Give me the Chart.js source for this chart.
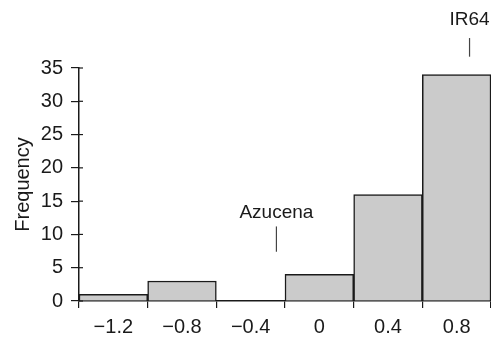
<!DOCTYPE html>
<html>
<head>
<meta charset="utf-8">
<script src="https://cdn.jsdelivr.net/npm/chart.js@4.4.1/dist/chart.umd.min.js"></script>
<style>
  html, body { margin: 0; padding: 0; background: #fff; }
  #chart { display: block; }
</style>
</head>
<body>
<canvas id="chart" width="491" height="338"></canvas>
<script>
// histogram bins (centre of each 0.4 wide bin) and counts
const binLabels = ['\u22121.2', '\u22120.8', '\u22120.4', '0', '0.4', '0.8'];
const binCenters = [-1.2, -0.8, -0.4, 0, 0.4, 0.8];
const frequency = [1, 3, 0, 4, 16, 34];
const yTicks = [0, 5, 10, 15, 20, 25, 30, 35];

// labelled parents, x in data units, line span in frequency units
const markerNames = ['Azucena', 'IR64'];
const markerX = [-0.25, 0.875];
const markerLine = [[7.4, 11.2], [36.7, 39.5]];
const markerText = [12.4, 41.5];

const FONT = '"Liberation Sans", Arial, Helvetica, sans-serif';
const INK = '#1a1a1a';

const binWidth = binCenters[1] - binCenters[0];
const toIndex = v => (v - binCenters[0]) / binWidth;

const markers = {
  id: 'markers',
  afterDatasetsDraw(chart) {
    const { ctx, scales: { x, y } } = chart;
    ctx.save();
    // short inner stubs: the y ticks cross the axis line
    ctx.strokeStyle = INK;
    ctx.lineWidth = 1.2;
    yTicks.forEach(v => {
      const py = y.getPixelForValue(v);
      ctx.beginPath();
      ctx.moveTo(x.left, py);
      ctx.lineTo(x.left + 4, py);
      ctx.stroke();
    });
    ctx.fillStyle = INK;
    ctx.strokeStyle = '#444';
    ctx.font = '19px ' + FONT;
    ctx.textAlign = 'center';
    ctx.textBaseline = 'alphabetic';
    markerNames.forEach((name, i) => {
      const px = x.getPixelForValue(toIndex(markerX[i]));
      ctx.beginPath();
      ctx.moveTo(px, y.getPixelForValue(markerLine[i][0]));
      ctx.lineTo(px, y.getPixelForValue(markerLine[i][1]));
      ctx.stroke();
      ctx.fillText(name, px, y.getPixelForValue(markerText[i]));
    });
    ctx.restore();
  }
};

new Chart(document.getElementById('chart'), {
  type: 'bar',
  data: {
    labels: binLabels,
    datasets: [{
      data: frequency,
      backgroundColor: '#cbcbcb',
      borderColor: INK,
      borderWidth: 1.5,
      borderSkipped: 'bottom',
      barPercentage: 1,
      categoryPercentage: 1
    }]
  },
  options: {
    responsive: false,
    animation: false,
    layout: { padding: { top: 68, right: -1, left: 0, bottom: 0 } },
    plugins: { legend: { display: false }, tooltip: { enabled: false } },
    scales: {
      x: {
        offset: true,
        grid: { offset: true, drawOnChartArea: false, drawTicks: true, tickLength: 7, color: INK, lineWidth: 1.2 },
        border: { display: true, color: INK, width: 1.5 },
        ticks: { color: INK, font: { family: FONT, size: 20 }, padding: 7, maxRotation: 0 },
        afterFit: s => { s.height = 37; }
      },
      y: {
        min: 0,
        max: 35,
        afterBuildTicks: s => { s.ticks = yTicks.map(v => ({ value: v })); },
        grid: { drawOnChartArea: false, drawTicks: true, tickLength: 8, color: INK, lineWidth: 1.2 },
        border: { display: true, color: INK, width: 1.5 },
        ticks: { color: INK, font: { family: FONT, size: 20 }, padding: 8 },
        title: { display: true, text: 'Frequency', color: INK, font: { family: FONT, size: 20 }, padding: { top: 11, bottom: 0 } },
        afterFit: s => { s.width = 79; }
      }
    }
  },
  plugins: [markers]
});
</script>
</body>
</html>
